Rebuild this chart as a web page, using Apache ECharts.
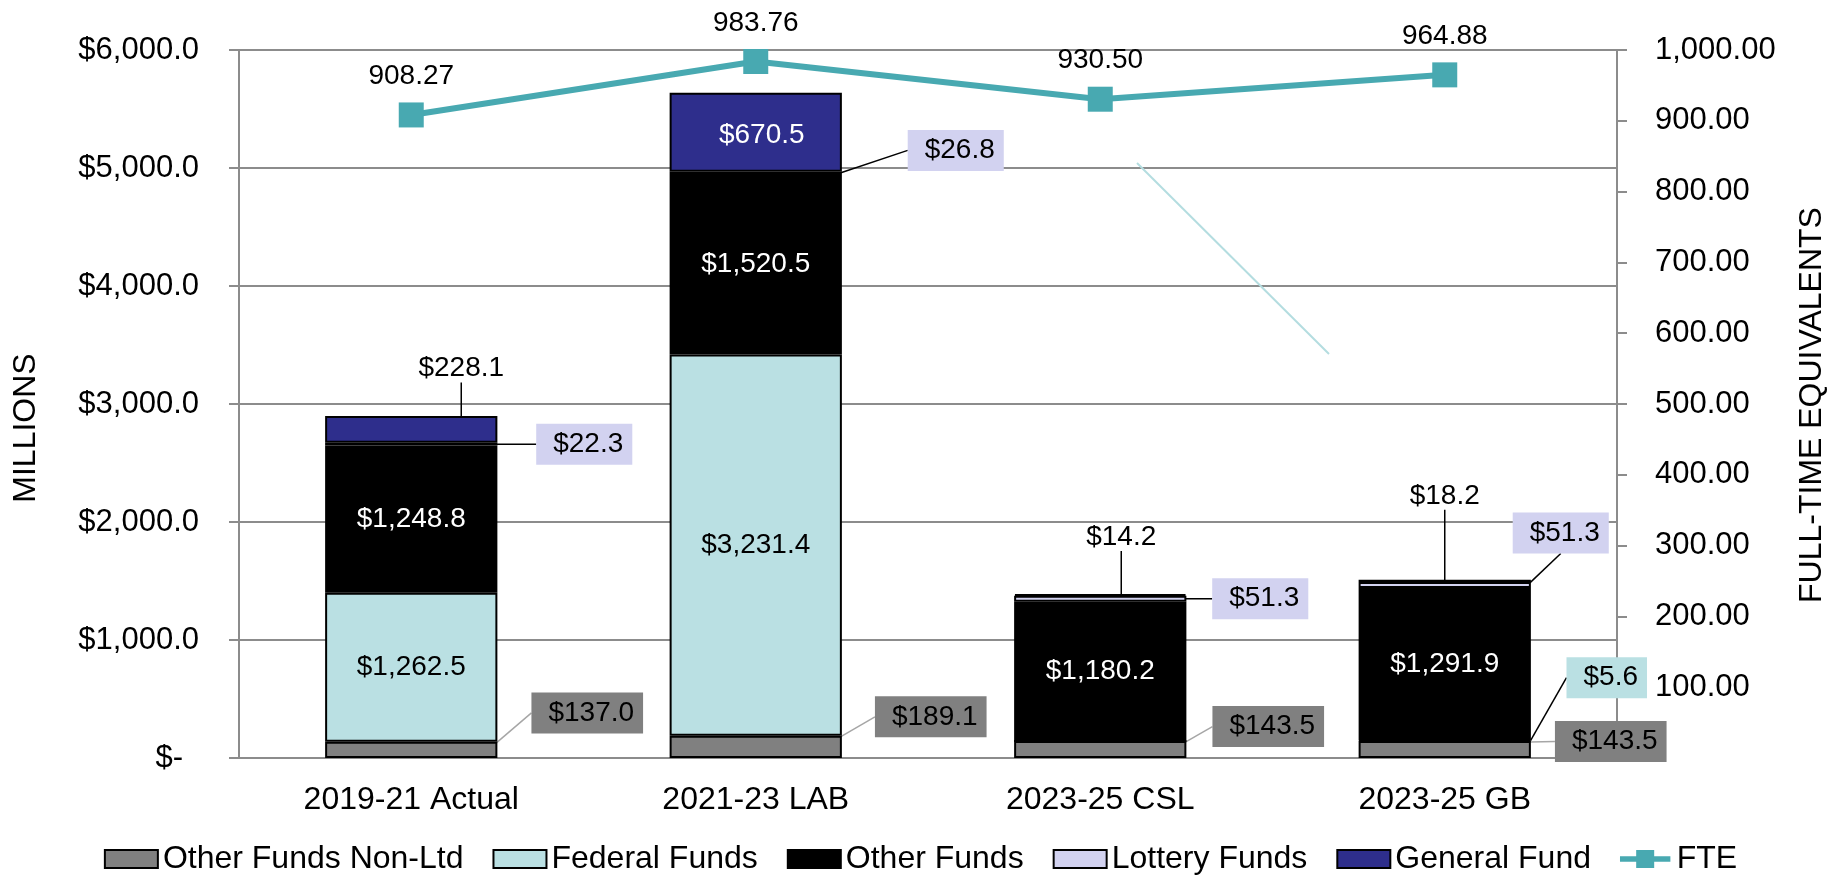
<!DOCTYPE html>
<html>
<head>
<meta charset="utf-8">
<script src="https://cdn.jsdelivr.net/npm/echarts@6/dist/echarts.min.js"></script>
<style>
html,body{margin:0;padding:0;background:#fff;}
#chart{width:1841px;height:877px;}
</style>
</head>
<body>
<div id="chart"></div>
<script>
// ---- data ----
const categories = ['2019-21 Actual', '2021-23 LAB', '2023-25 CSL', '2023-25 GB'];
const otherFundsNonLtd = [137.0, 189.1, 143.5, 143.5];
const federalFunds = [1262.5, 3231.4, 0, 5.6];
const otherFunds = [1248.8, 1520.5, 1180.2, 1291.9];
const lotteryFunds = [22.3, 26.8, 51.3, 51.3];
const generalFund = [228.1, 670.5, 14.2, 18.2];
const fte = [908.27, 983.76, 930.50, 964.88];
const moneyTicks = [0, 1000, 2000, 3000, 4000, 5000, 6000];
const fteTicks = [0, 100, 200, 300, 400, 500, 600, 700, 800, 900, 1000];

// ---- layout (label offsets in px, not data) ----
const FONT = "'Liberation Sans', Arial, sans-serif";
const OFF = {
  nonLtd:  [[176, -37], [175, -30], [168, -23], [166, -8]],
  federal: [null, null, null, [162, -63]],
  lottery: [[173, 0], [200, -23], [160, 0], [116, -52]],
  general: [[50, -61], [6, 3], [21, -58], [0, -85]]
};

function money(v) {
  return '$' + Number(v).toLocaleString('en-US', {minimumFractionDigits: 1, maximumFractionDigits: 1});
}
const baseLabel = {show: true, position: 'inside', fontFamily: FONT, fontSize: 28, color: '#000', formatter: p => money(p.value)};
function boxLabel(bg) {
  return Object.assign({}, baseLabel, {backgroundColor: bg, padding: [7, 9, 6, 17]});
}
const lineBlack = {show: true, lineStyle: {color: '#000', width: 1.5}};
const lineGray = {show: true, lineStyle: {color: '#A6A6A6', width: 1.5}};
const noLine = {show: false};

function layoutFrom(arr) {
  return function (p) {
    const o = arr[p.dataIndex];
    return o ? {dx: o[0], dy: o[1]} : {};
  };
}

const barCommon = {
  type: 'bar', stack: 'total', barWidth: '50%',
  itemStyle: {borderColor: '#000', borderWidth: 2},
  emphasis: {disabled: true}
};

const chart = echarts.init(document.getElementById('chart'), null, {renderer: 'canvas'});
chart.setOption({
  animation: false,
  textStyle: {fontFamily: FONT},
  grid: {left: 239, right: 224, top: 50, bottom: 119},
  legend: {
    left: 'center', top: 838, itemWidth: 53, itemHeight: 18, itemGap: 29,
    textStyle: {fontFamily: FONT, fontSize: 32, color: '#000'},
    data: [
      {name: 'Other Funds Non-Ltd', icon: 'rect'},
      {name: 'Federal Funds', icon: 'rect'},
      {name: 'Other Funds', icon: 'rect'},
      {name: 'Lottery Funds', icon: 'rect'},
      {name: 'General Fund', icon: 'rect'},
      {name: 'FTE', icon: 'path://M0,7 L18,7 L18,0 L38,0 L38,7 L56,7 L56,13 L38,13 L38,20 L18,20 L18,13 L0,13 Z'}
    ]
  },
  xAxis: {
    type: 'category', data: categories,
    axisLine: {lineStyle: {color: '#8C8C8C', width: 2}},
    axisTick: {show: false},
    axisLabel: {fontFamily: FONT, fontSize: 32, color: '#000', margin: 26}
  },
  yAxis: [{
    type: 'value', min: moneyTicks[0], max: moneyTicks[moneyTicks.length - 1], interval: 1000,
    axisLine: {show: true, lineStyle: {color: '#8C8C8C', width: 2}},
    axisTick: {show: true, length: 10, lineStyle: {color: '#8C8C8C', width: 2}},
    splitLine: {lineStyle: {color: '#8C8C8C', width: 2}},
    axisLabel: {
      fontFamily: FONT, fontSize: 31, color: '#000', margin: 40,
      formatter: v => v === 0 ? '{z|$-}' : money(v),
      rich: {z: {fontFamily: FONT, fontSize: 31, color: '#000', padding: [0, 16, 0, 0]}}
    }
  }, {
    type: 'value', min: fteTicks[0], max: fteTicks[fteTicks.length - 1], interval: 100, position: 'right',
    axisLine: {show: true, lineStyle: {color: '#8C8C8C', width: 2}},
    axisTick: {show: true, length: 10, lineStyle: {color: '#8C8C8C', width: 2}},
    splitLine: {show: false},
    axisLabel: {
      fontFamily: FONT, fontSize: 31, color: '#000', margin: 38, align: 'left',
      formatter: v => v === 0 ? '-' : v.toLocaleString('en-US', {minimumFractionDigits: 2, maximumFractionDigits: 2})
    }
  }],
  graphic: [
    {type: 'text', x: 26, y: 428, rotation: Math.PI / 2,
     style: {text: 'MILLIONS', fontFamily: FONT, fontSize: 32, fill: '#000', align: 'center', verticalAlign: 'middle'}},
    {type: 'text', x: 1812, y: 405, rotation: Math.PI / 2,
     style: {text: 'FULL-TIME EQUIVALENTS', fontFamily: FONT, fontSize: 32, fill: '#000', align: 'center', verticalAlign: 'middle'}},
    {type: 'line', z: 1, shape: {x1: 1137, y1: 163, x2: 1329, y2: 354}, style: {stroke: '#B4DDE0', lineWidth: 2}}
  ],
  series: [
    Object.assign({}, barCommon, {
      name: 'Other Funds Non-Ltd', itemStyle: {color: '#808080', borderColor: '#000', borderWidth: 2},
      labelLayout: layoutFrom(OFF.nonLtd),
      data: otherFundsNonLtd.map(v => ({value: v, label: boxLabel('#808080'), labelLine: lineGray}))
    }),
    Object.assign({}, barCommon, {
      name: 'Federal Funds', itemStyle: {color: '#BAE0E3', borderColor: '#000', borderWidth: 2},
      labelLayout: layoutFrom(OFF.federal),
      data: federalFunds.map((v, i) => {
        if (v === 0) return {value: v, label: {show: false}, labelLine: noLine};
        if (OFF.federal[i]) return {value: v, label: boxLabel('#BAE0E3'), labelLine: lineBlack};
        return {value: v, label: Object.assign({}, baseLabel), labelLine: noLine};
      })
    }),
    Object.assign({}, barCommon, {
      name: 'Other Funds', itemStyle: {color: '#000000', borderColor: '#000', borderWidth: 2},
      data: otherFunds.map(v => ({value: v, label: Object.assign({}, baseLabel, {color: '#fff'}), labelLine: noLine}))
    }),
    Object.assign({}, barCommon, {
      name: 'Lottery Funds', itemStyle: {color: '#D2D2F0', borderColor: '#000', borderWidth: 2},
      labelLayout: layoutFrom(OFF.lottery),
      data: lotteryFunds.map(v => ({value: v, label: boxLabel('#D2D2F0'), labelLine: lineBlack}))
    }),
    Object.assign({}, barCommon, {
      name: 'General Fund', itemStyle: {color: '#2E2E8C', borderColor: '#000', borderWidth: 2},
      labelLayout: layoutFrom(OFF.general),
      data: generalFund.map((v, i) => {
        if (i === 1) return {value: v, label: Object.assign({}, baseLabel, {color: '#fff'}), labelLine: noLine};
        return {value: v, label: Object.assign({}, baseLabel), labelLine: lineBlack};
      })
    }),
    {
      name: 'FTE', type: 'line', yAxisIndex: 1, data: fte, z: 5,
      symbol: 'rect', symbolSize: 25,
      lineStyle: {color: '#48A9B1', width: 6},
      itemStyle: {color: '#48A9B1'},
      emphasis: {disabled: true},
      label: {show: true, position: 'top', distance: 12, fontFamily: FONT, fontSize: 28, color: '#000',
              formatter: p => p.value.toFixed(2)}
    }
  ]
});
</script>
</body>
</html>
